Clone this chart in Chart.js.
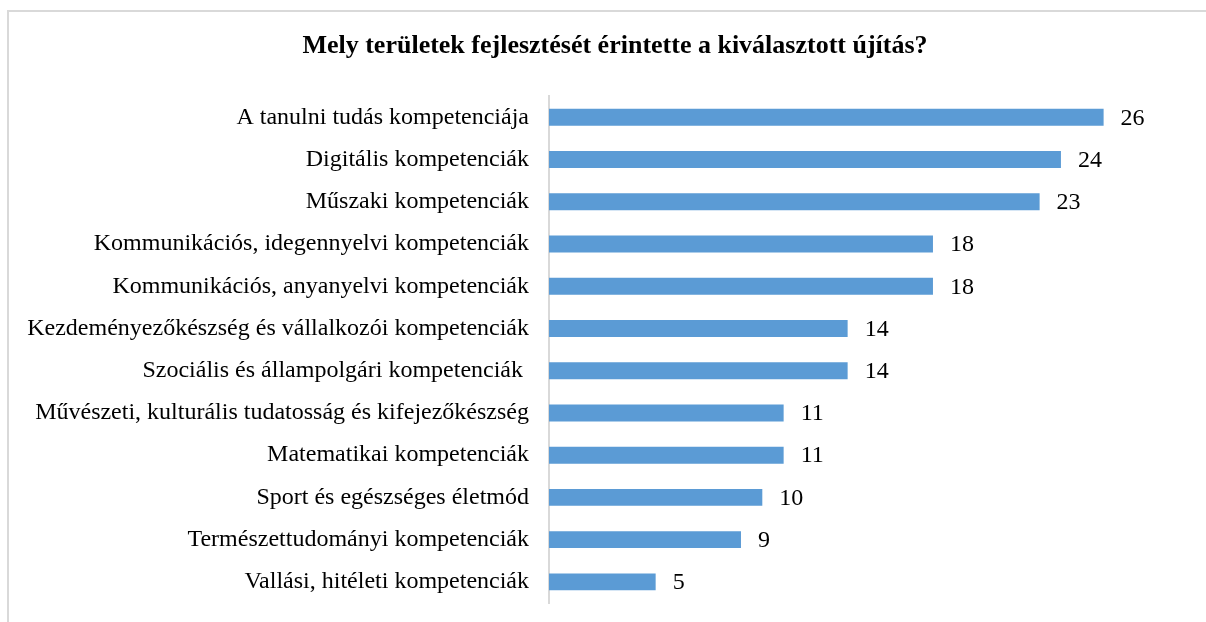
<!DOCTYPE html>
<html>
<head>
<meta charset="utf-8">
<script src="https://cdn.jsdelivr.net/npm/chart.js@4"></script>
<style>
html,body{margin:0;padding:0;background:#fff;}
#frame{position:absolute;left:7px;top:10px;width:1300px;height:700px;border-top:2px solid #d9d9d9;border-left:2px solid #d9d9d9;}
#wrap{position:absolute;left:0;top:0;width:1206px;height:622px;}
</style>
</head>
<body>
<div id="frame"></div>
<div id="wrap"><canvas id="c" width="1206" height="622"></canvas></div>
<script>
const titleText = 'Mely területek fejlesztését érintette a kiválasztott újítás?';
const categories = [
  'A tanulni tudás kompetenciája',
  'Digitális kompetenciák',
  'Műszaki kompetenciák',
  'Kommunikációs, idegennyelvi kompetenciák',
  'Kommunikációs, anyanyelvi kompetenciák',
  'Kezdeményezőkészség és vállalkozói kompetenciák',
  'Szociális és állampolgári kompetenciák ',
  'Művészeti, kulturális tudatosság és kifejezőkészség',
  'Matematikai kompetenciák',
  'Sport és egészséges életmód',
  'Természettudományi kompetenciák',
  'Vallási, hitéleti kompetenciák'
];
const values = [26, 24, 23, 18, 18, 14, 14, 11, 11, 10, 9, 5];

const FONT = '"Liberation Serif", "Times New Roman", serif';
const AXIS_X = 549;
const PAD_L = 10;

const valueLabels = {
  id: 'valueLabels',
  afterDatasetsDraw(chart) {
    const ctx = chart.ctx;
    const meta = chart.getDatasetMeta(0);
    ctx.save();
    ctx.font = '24px ' + FONT;
    ctx.fillStyle = '#000';
    ctx.textBaseline = 'middle';
    ctx.textAlign = 'left';
    meta.data.forEach((bar, i) => {
      ctx.fillText(String(values[i]), bar.x + 17, bar.y + 1);
    });
    ctx.restore();
  }
};

new Chart(document.getElementById('c'), {
  type: 'bar',
  data: {
    labels: categories,
    datasets: [{
      data: values,
      backgroundColor: '#5B9BD5',
      borderWidth: 0,
      barPercentage: 0.4,
      categoryPercentage: 1.0
    }]
  },
  options: {
    indexAxis: 'y',
    responsive: false,
    animation: false,
    layout: { padding: { left: PAD_L, right: -14, top: 0, bottom: 19 } },
    plugins: {
      legend: { display: false },
      tooltip: { enabled: false },
      title: {
        display: true,
        text: titleText,
        color: '#000',
        font: { family: FONT, size: 26, weight: 'bold' },
        padding: { top: 31, bottom: 34 }
      }
    },
    scales: {
      x: {
        display: false,
        min: 0,
        max: 30.8
      },
      y: {
        afterFit(scale) {
          scale.width = AXIS_X - PAD_L;
          scale.paddingTop = 0;
          scale.paddingBottom = 0;
        },
        grid: { display: false, drawTicks: false },
        border: { display: true, color: '#d9d9d9', width: 2 },
        ticks: {
          color: '#000',
          padding: 20,
          autoSkip: false,
          font: { family: FONT, size: 24 }
        }
      }
    }
  },
  plugins: [valueLabels]
});
</script>
</body>
</html>
